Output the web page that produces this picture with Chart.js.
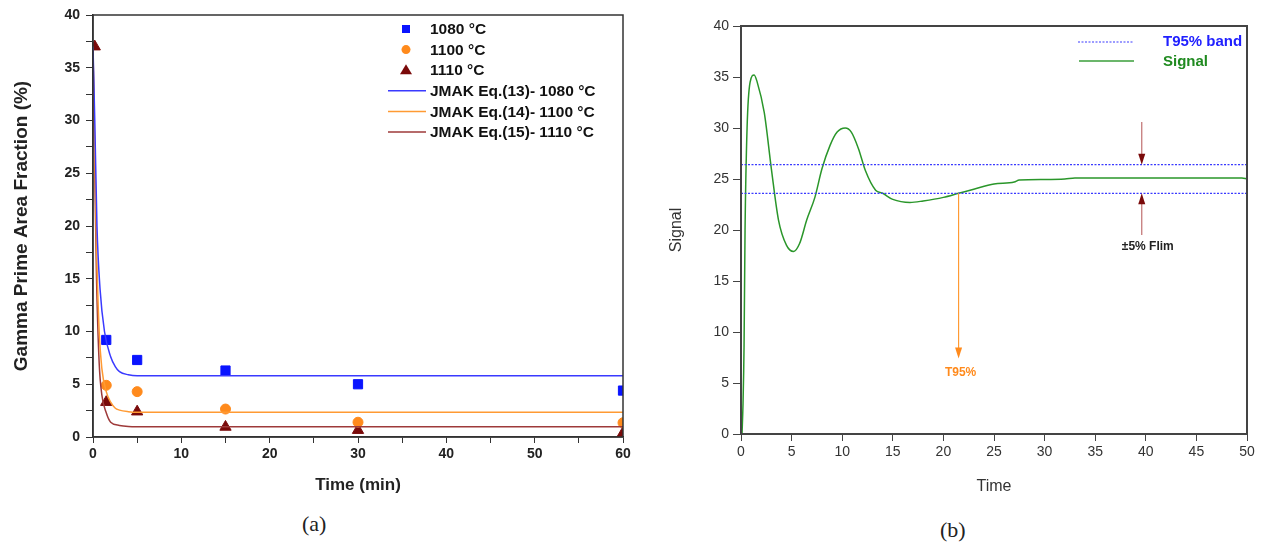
<!DOCTYPE html>
<html>
<head>
<meta charset="utf-8">
<script src="https://cdn.jsdelivr.net/npm/chart.js@4.4.0/dist/chart.umd.min.js"></script>
<style>
  body { margin: 0; background: #fff; }
  .box { position: absolute; top: 0; height: 500px; }
  #boxA { left: 0; width: 640px; }
  #boxB { left: 640px; width: 627px; }
  .cap { position: absolute; font-family: "Liberation Serif", serif; font-size: 22px; color: #222; }
</style>
</head>
<body>
<div class="box" id="boxA"><canvas id="chartA"></canvas></div>
<div class="box" id="boxB"><canvas id="chartB"></canvas></div>
<div class="cap" style="left:302px;top:511px;">(a)</div>
<div class="cap" style="left:940px;top:517px;">(b)</div>
<script>
// ---- (a) data ----
var timeA = [0.2, 1.5, 5, 15, 30, 60];
var pts1080 = [null, 9.2, 7.3, 6.3, 5.0, 4.4];
var pts1100 = [null, 4.9, 4.3, 2.65, 1.4, 1.35];
var pts1110 = [37.0, 3.3, 2.4, 0.95, 0.65, 0.38];

var fitT1080 = [0, 0.2, 0.45, 0.8, 1.3, 2, 2.5, 3, 4, 5, 60];
var fit1080  = [37, 30, 20, 14, 10, 7.6, 6.7, 6.2, 5.9, 5.8, 5.8];
var fitT1100 = [0, 0.2, 0.4, 0.7, 1, 1.5, 2, 2.5, 3, 4, 5, 60];
var fit1100  = [37, 27, 18, 10, 6.5, 4.3, 3.3, 2.75, 2.55, 2.4, 2.35, 2.35];
var fitT1110 = [0, 0.2, 0.4, 0.7, 1, 1.5, 2, 3, 4, 5, 60];
var fit1110  = [37, 25, 15, 7, 4, 2.3, 1.4, 1.1, 1.0, 0.98, 0.98];

// ---- (b) data ----
var timeB = [0.1, 0.2, 0.3, 0.4, 0.6, 0.9, 1.3, 1.6, 2.3, 3, 3.7, 4.5, 5.2, 5.8, 6.5, 7.3, 8, 8.8, 9.5, 10.3,
             10.9, 11.6, 12.3, 13.3, 14, 15, 16.7, 18, 20, 21.5, 23, 25, 27, 27.5, 30, 32, 33, 49.5, 50];
var signal = [0, 3, 8.5, 20, 30, 34.5, 35.2, 34.5, 31.5, 26, 21, 18.5, 17.9, 18.7, 21, 23.2, 26, 28.3, 29.6, 30,
              29.6, 28, 25.8, 23.9, 23.6, 23.0, 22.7, 22.85, 23.2, 23.6, 24, 24.5, 24.7, 24.9, 24.95, 25.0, 25.1, 25.1, 25.0];
var bandHigh = 26.4;
var bandLow = 23.6;
var flimT = 39.6;
var t95T = 21.5;

function pairs(xs, ys) {
  var out = [];
  for (var i = 0; i < xs.length; i++) {
    if (ys[i] !== null) out.push({x: xs[i], y: ys[i]});
  }
  return out;
}

Chart.defaults.font.family = '"Liberation Sans", Arial, sans-serif';
Chart.defaults.animation = false;

// frame on top/right
var framePlugin = {
  id: 'frame',
  afterDatasetsDraw: function (chart, args, opts) {
    var a = chart.chartArea, ctx = chart.ctx;
    ctx.save();
    ctx.strokeStyle = opts.color;
    ctx.lineWidth = opts.width;
    ctx.strokeRect(a.left, a.top, a.right - a.left, a.bottom - a.top);
    ctx.restore();
  }
};

// legend for (a)
var legendA = {
  id: 'legendA',
  afterDraw: function (chart) {
    var ctx = chart.ctx;
    var items = [
      {type: 'rect', color: '#0a14ff', text: '1080 °C'},
      {type: 'circle', color: '#ff8a1c', text: '1100 °C'},
      {type: 'triangle', color: '#7a0a0a', text: '1110 °C'},
      {type: 'line', color: '#3a3aff', text: 'JMAK Eq.(13)- 1080 °C'},
      {type: 'line', color: '#ff9a33', text: 'JMAK Eq.(14)- 1100 °C'},
      {type: 'line', color: '#9e3a3a', text: 'JMAK Eq.(15)- 1110 °C'}
    ];
    ctx.save();
    ctx.font = 'bold 15.5px "Liberation Sans", Arial, sans-serif';
    ctx.textBaseline = 'middle';
    for (var i = 0; i < items.length; i++) {
      var y = 29 + i * 20.6, it = items[i];
      ctx.fillStyle = it.color;
      ctx.strokeStyle = it.color;
      if (it.type === 'rect') ctx.fillRect(406 - 4, y - 4, 8, 8);
      else if (it.type === 'circle') { ctx.beginPath(); ctx.arc(406, y, 4.5, 0, Math.PI * 2); ctx.fill(); }
      else if (it.type === 'triangle') { ctx.beginPath(); ctx.moveTo(406, y - 6); ctx.lineTo(412, y + 4); ctx.lineTo(400, y + 4); ctx.closePath(); ctx.fill(); }
      else { ctx.lineWidth = 1.5; ctx.beginPath(); ctx.moveTo(388, y); ctx.lineTo(426, y); ctx.stroke(); }
      ctx.fillStyle = '#111';
      ctx.fillText(it.text, 430, y + 1);
    }
    ctx.restore();
  }
};

var chartA = new Chart(document.getElementById('chartA'), {
  type: 'scatter',
  data: {
    datasets: [
      {label: 'JMAK 1080', data: pairs(fitT1080, fit1080), showLine: true, pointRadius: 0, borderColor: '#3a3aff', borderWidth: 1.5, cubicInterpolationMode: 'monotone'},
      {label: 'JMAK 1100', data: pairs(fitT1100, fit1100), showLine: true, pointRadius: 0, borderColor: '#ff9a33', borderWidth: 1.5, cubicInterpolationMode: 'monotone'},
      {label: 'JMAK 1110', data: pairs(fitT1110, fit1110), showLine: true, pointRadius: 0, borderColor: '#9e3a3a', borderWidth: 1.5, cubicInterpolationMode: 'monotone'},
      {label: '1080', data: pairs(timeA, pts1080), pointStyle: 'rect', pointRadius: 6.5, backgroundColor: '#0a14ff', borderColor: '#0a14ff'},
      {label: '1100', data: pairs(timeA, pts1100), pointStyle: 'circle', pointRadius: 5, backgroundColor: '#ff8a1c', borderColor: '#ff8a1c'},
      {label: '1110', data: pairs(timeA, pts1110), pointStyle: 'triangle', pointRadius: 6.5, backgroundColor: '#7a0a0a', borderColor: '#7a0a0a'}
    ]
  },
  options: {
    responsive: true,
    maintainAspectRatio: false,
    layout: {padding: {left: 0, top: 15, right: 17, bottom: 0}},
    plugins: {legend: {display: false}, tooltip: {enabled: false}, frame: {color: '#333', width: 1.5}},
    scales: {
      x: {
        type: 'linear', min: 0, max: 60,
        afterFit: function (s) { s.height = 63; },
        ticks: {stepSize: 5, color: '#222', font: {size: 14, weight: 'bold'}, padding: 3, maxRotation: 0,
                callback: function (v) { return v % 10 === 0 ? v : ''; }},
        grid: {drawOnChartArea: false, tickLength: 6, tickColor: '#333'},
        border: {color: '#333', width: 1.5},
        title: {display: true, text: 'Time (min)', color: '#222', font: {size: 17, weight: 'bold'}, padding: {top: 4}}
      },
      y: {
        min: 0, max: 40,
        afterFit: function (s) { s.width = 93; },
        ticks: {stepSize: 2.5, color: '#222', font: {size: 14, weight: 'bold'}, padding: 6,
                callback: function (v) { return v % 5 === 0 ? v : ''; }},
        grid: {drawOnChartArea: false, tickLength: 7, tickColor: '#333'},
        border: {color: '#333', width: 1.5},
        title: {display: true, text: 'Gamma Prime Area Fraction (%)', color: '#222', font: {size: 19, weight: 'bold'}, padding: {bottom: 0, top: 10}}
      }
    }
  },
  plugins: [framePlugin, legendA]
});

// arrows + labels + legend for (b)
function arrow(ctx, x, y0, y1, shaft, head) {
  var dir = y1 > y0 ? 1 : -1;
  ctx.strokeStyle = shaft; ctx.lineWidth = 1.2;
  ctx.beginPath(); ctx.moveTo(x, y0); ctx.lineTo(x, y1 - dir * 9); ctx.stroke();
  ctx.fillStyle = head;
  ctx.beginPath(); ctx.moveTo(x, y1); ctx.lineTo(x - 3.5, y1 - dir * 11); ctx.lineTo(x + 3.5, y1 - dir * 11); ctx.closePath(); ctx.fill();
}
var notesB = {
  id: 'notesB',
  afterDraw: function (chart) {
    var ctx = chart.ctx, xs = chart.scales.x, ys = chart.scales.y;
    ctx.save();
    var fx = xs.getPixelForValue(flimT);
    arrow(ctx, fx, ys.getPixelForValue(30.6), ys.getPixelForValue(bandHigh), '#c07070', '#7a0a0a');
    arrow(ctx, fx, ys.getPixelForValue(19.5), ys.getPixelForValue(bandLow), '#c07070', '#7a0a0a');
    var tx = xs.getPixelForValue(t95T);
    arrow(ctx, tx, ys.getPixelForValue(bandLow), ys.getPixelForValue(7.4), '#ff9a33', '#ff8a1c');
    ctx.textAlign = 'center'; ctx.textBaseline = 'middle';
    ctx.font = 'bold 12px "Liberation Sans", Arial, sans-serif';
    ctx.fillStyle = '#222';
    ctx.fillText('±5% Flim', xs.getPixelForValue(40.2), ys.getPixelForValue(18.4));
    ctx.fillStyle = '#ff8a1c';
    ctx.fillText('T95%', xs.getPixelForValue(21.7), ys.getPixelForValue(6.0));
    // legend
    ctx.textAlign = 'left';
    ctx.font = 'bold 15px "Liberation Sans", Arial, sans-serif';
    ctx.strokeStyle = '#3a3aff'; ctx.lineWidth = 1.2; ctx.setLineDash([2, 1.5]);
    ctx.beginPath(); ctx.moveTo(1078 - 640, 42); ctx.lineTo(1133 - 640, 42); ctx.stroke();
    ctx.setLineDash([]);
    ctx.strokeStyle = '#3a9e3a'; ctx.lineWidth = 1.5;
    ctx.beginPath(); ctx.moveTo(1079 - 640, 61); ctx.lineTo(1134 - 640, 61); ctx.stroke();
    ctx.fillStyle = '#2020ff'; ctx.fillText('T95% band', 1163 - 640, 42);
    ctx.fillStyle = '#1f8a1f'; ctx.fillText('Signal', 1163 - 640, 62);
    ctx.restore();
  }
};

var chartB = new Chart(document.getElementById('chartB'), {
  type: 'scatter',
  data: {
    datasets: [
      {label: 'band high', data: [{x: 0, y: bandHigh}, {x: 50, y: bandHigh}], showLine: true, pointRadius: 0, borderColor: '#3a3aff', borderWidth: 1.3, borderDash: [2, 1.5]},
      {label: 'band low', data: [{x: 0, y: bandLow}, {x: 50, y: bandLow}], showLine: true, pointRadius: 0, borderColor: '#3a3aff', borderWidth: 1.3, borderDash: [2, 1.5]},
      {label: 'Signal', data: pairs(timeB, signal), showLine: true, pointRadius: 0, borderColor: '#2a962a', borderWidth: 1.5, cubicInterpolationMode: 'monotone'}
    ]
  },
  options: {
    responsive: true,
    maintainAspectRatio: false,
    layout: {padding: {left: 0, top: 26, right: 20, bottom: 0}},
    plugins: {legend: {display: false}, tooltip: {enabled: false}, frame: {color: '#444', width: 2}},
    scales: {
      x: {
        type: 'linear', min: 0, max: 50,
        afterFit: function (s) { s.height = 66; },
        ticks: {stepSize: 5, color: '#333', font: {size: 14}, padding: 3, maxRotation: 0},
        grid: {drawOnChartArea: false, tickLength: 7, tickColor: '#444'},
        border: {color: '#444', width: 2},
        title: {display: true, text: 'Time', color: '#333', font: {size: 16}, padding: {top: 10}}
      },
      y: {
        min: 0, max: 40,
        afterFit: function (s) { s.width = 101; },
        ticks: {stepSize: 5, color: '#333', font: {size: 14}, padding: 4},
        grid: {drawOnChartArea: false, tickLength: 8, tickColor: '#444'},
        border: {color: '#444', width: 2},
        title: {display: true, text: 'Signal', color: '#333', font: {size: 16}, padding: {top: 27}}
      }
    }
  },
  plugins: [framePlugin, notesB]
});
</script>
</body>
</html>
